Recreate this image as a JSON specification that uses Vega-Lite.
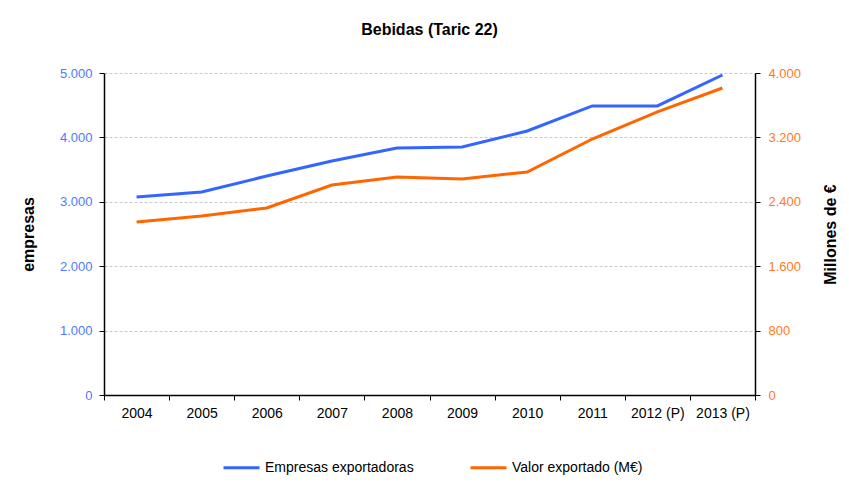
{
  "$schema": "https://vega.github.io/schema/vega-lite/v6.json",
  "width": 651,
  "height": 322,
  "autosize": {"type": "none"},
  "padding": {"left": 104, "top": 73, "right": 94, "bottom": 91},
  "background": "white",
  "title": {
    "text": "Bebidas (Taric 22)",
    "font": "Liberation Sans",
    "fontSize": 16,
    "fontWeight": "bold",
    "color": "#000000",
    "anchor": "middle",
    "frame": "group",
    "offset": 29
  },
  "config": {
    "locale": {"number": {"decimal": ",", "thousands": ".", "grouping": [3], "currency": ["", " €"]}},
    "view": {"stroke": null},
    "font": "Liberation Sans",
    "axis": {
      "labelFont": "Liberation Sans",
      "titleFont": "Liberation Sans",
      "domainColor": "#000000",
      "tickColor": "#000000",
      "domainWidth": 1.5,
      "tickWidth": 1
    }
  },
  "data": {
    "values": [
      {"year": "2004", "empresas": 3075, "valor": 2149},
      {"year": "2005", "empresas": 3152, "valor": 2224},
      {"year": "2006", "empresas": 3400, "valor": 2323},
      {"year": "2007", "empresas": 3634, "valor": 2609},
      {"year": "2008", "empresas": 3836, "valor": 2708},
      {"year": "2009", "empresas": 3851, "valor": 2683},
      {"year": "2010", "empresas": 4100, "valor": 2770},
      {"year": "2011", "empresas": 4488, "valor": 3180},
      {"year": "2012 (P)", "empresas": 4488, "valor": 3516},
      {"year": "2013 (P)", "empresas": 4969, "valor": 3814}
    ]
  },
  "encoding": {
    "x": {
      "field": "year",
      "type": "ordinal",
      "sort": null,
      "scale": {"type": "band", "paddingInner": 0, "paddingOuter": 0},
      "axis": {
        "title": null,
        "labelAngle": 0,
        "labelFontSize": 14,
        "labelColor": "#000000",
        "labelPadding": 6,
        "tickBand": "extent",
        "tickSize": 5,
        "grid": false
      }
    }
  },
  "layer": [
    {
      "mark": {"type": "line", "strokeWidth": 3},
      "encoding": {
        "y": {
          "field": "empresas",
          "type": "quantitative",
          "scale": {"domain": [0, 5000], "nice": false},
          "axis": {
            "title": "empresas",
            "titleFontSize": 16,
            "titleFontWeight": "bold",
            "titleColor": "#000000",
            "titlePadding": 23,
            "values": [0, 1000, 2000, 3000, 4000, 5000],
            "format": ",d",
            "labelColor": "#4d79ff",
            "labelFontSize": 13,
            "labelPadding": 7,
            "tickSize": 5,
            "grid": true,
            "gridColor": "#c8c8c8",
            "gridDash": [3, 2],
            "gridWidth": 1
          }
        },
        "color": {
          "datum": "Empresas exportadoras",
          "type": "nominal",
          "scale": {
            "domain": ["Empresas exportadoras", "Valor exportado (M€)"],
            "range": ["#3366ff", "#ff6600"]
          },
          "legend": {
            "title": null,
            "orient": "none",
            "direction": "horizontal",
            "legendX": 118,
            "legendY": 375,
            "padding": 0,
            "symbolType": "stroke",
            "symbolSize": 1296,
            "symbolStrokeWidth": 3,
            "labelFontSize": 14,
            "labelFont": "Liberation Sans",
            "labelColor": "#000000",
            "labelOffset": 4,
            "columnPadding": 50
          }
        }
      }
    },
    {
      "mark": {"type": "line", "strokeWidth": 3},
      "encoding": {
        "y": {
          "field": "valor",
          "type": "quantitative",
          "scale": {"domain": [0, 4000], "nice": false},
          "axis": {
            "orient": "right",
            "title": "Millones de €",
            "titleAngle": 270,
            "titleFontSize": 16,
            "titleFontWeight": "bold",
            "titleColor": "#000000",
            "titlePadding": 38,
            "values": [0, 800, 1600, 2400, 3200, 4000],
            "format": ",d",
            "labelColor": "#ff7a20",
            "labelFontSize": 13,
            "labelPadding": 8,
            "tickSize": 5,
            "grid": false
          }
        },
        "color": {"datum": "Valor exportado (M€)", "type": "nominal"}
      }
    }
  ],
  "resolve": {"scale": {"y": "independent"}}
}
